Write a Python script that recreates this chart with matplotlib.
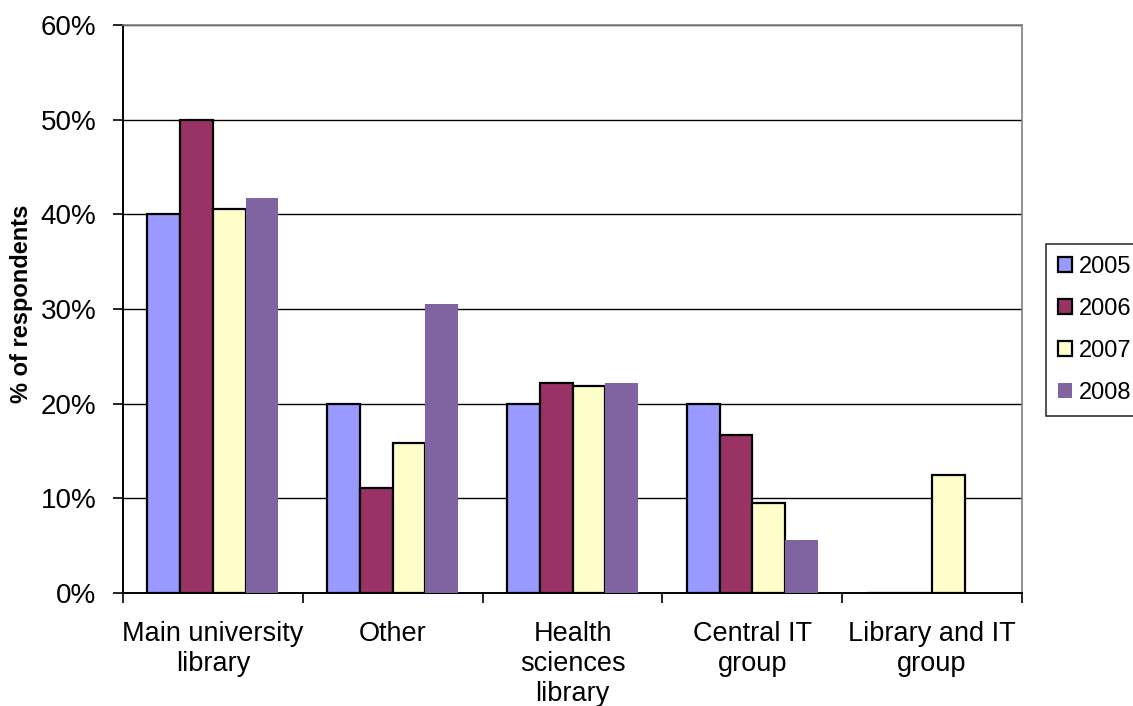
import numpy as np
import matplotlib.pyplot as plt
from matplotlib.ticker import FuncFormatter

plt.rcParams['font.family'] = ['Liberation Sans', 'DejaVu Sans']

categories = ["Main university\nlibrary", "Other", "Health\nsciences\nlibrary",
              "Central IT\ngroup", "Library and IT\ngroup"]
years = ["2005", "2006", "2007", "2008"]
pct_2005 = [40.0, 20.0, 20.0, 20.0, 0.0]
pct_2006 = [50.0, 11.1, 22.2, 16.7, 0.0]
pct_2007 = [40.6, 15.8, 21.9, 9.5, 12.5]
pct_2008 = [41.7, 30.5, 22.2, 5.6, 0.0]

series = [pct_2005, pct_2006, pct_2007, pct_2008]
colors = ["#9999FF", "#993366", "#FFFFCC", "#8064A2"]
edges = ["black", "black", "black", "none"]

fig = plt.figure(figsize=(11.33, 7.06), dpi=100)
ax = fig.add_axes([123 / 1133, 113 / 706, 899 / 1133, 568 / 706])

x = np.arange(len(categories))
width = 0.182
for i, (vals, c, ec) in enumerate(zip(series, colors, edges)):
    offs = (i - 1.5) * width
    ax.bar(x + offs, vals, width, color=c, edgecolor=ec, linewidth=1.6,
           label=years[i], zorder=3)

ax.set_xlim(-0.5, len(categories) - 0.5)
ax.set_ylim(0, 60)
ax.set_yticks(np.arange(0, 61, 10))
ax.yaxis.set_major_formatter(FuncFormatter(lambda v, p: f"{int(v)}%"))
ax.grid(axis='y', color='black', linewidth=1.0, zorder=0)

# category labels centred, ticks on group boundaries
ax.set_xticks(x)
ax.set_xticklabels(categories, fontsize=19.5, linespacing=1.2)
ax.tick_params(axis='x', which='major', length=0, pad=20)
ax.set_xticks(np.arange(-0.5, len(categories)), minor=True)
ax.tick_params(axis='x', which='minor', direction='out', length=7, width=1.2)
ax.tick_params(axis='y', direction='out', length=7, width=1.2, labelsize=20, pad=12)

for s in ['top', 'right']:
    ax.spines[s].set_color('#808080')
    ax.spines[s].set_linewidth(1.2)
for s in ['left', 'bottom']:
    ax.spines[s].set_color('black')
    ax.spines[s].set_linewidth(1.4)

ax.set_ylabel("% of respondents", fontsize=17, fontweight='bold')
ax.yaxis.set_label_coords(-90 / 899, 0.51)

leg = fig.legend(loc='upper left', bbox_to_anchor=(1046 / 1133, 1 - 244 / 706),
                 fontsize=17, frameon=True, fancybox=False, edgecolor='black',
                 handlelength=0.6, handleheight=0.6, handletextpad=0.3,
                 labelspacing=0.85, borderpad=0.5, borderaxespad=0)
leg.get_frame().set_linewidth(1.2)

fig.savefig("out.png", dpi=100)
